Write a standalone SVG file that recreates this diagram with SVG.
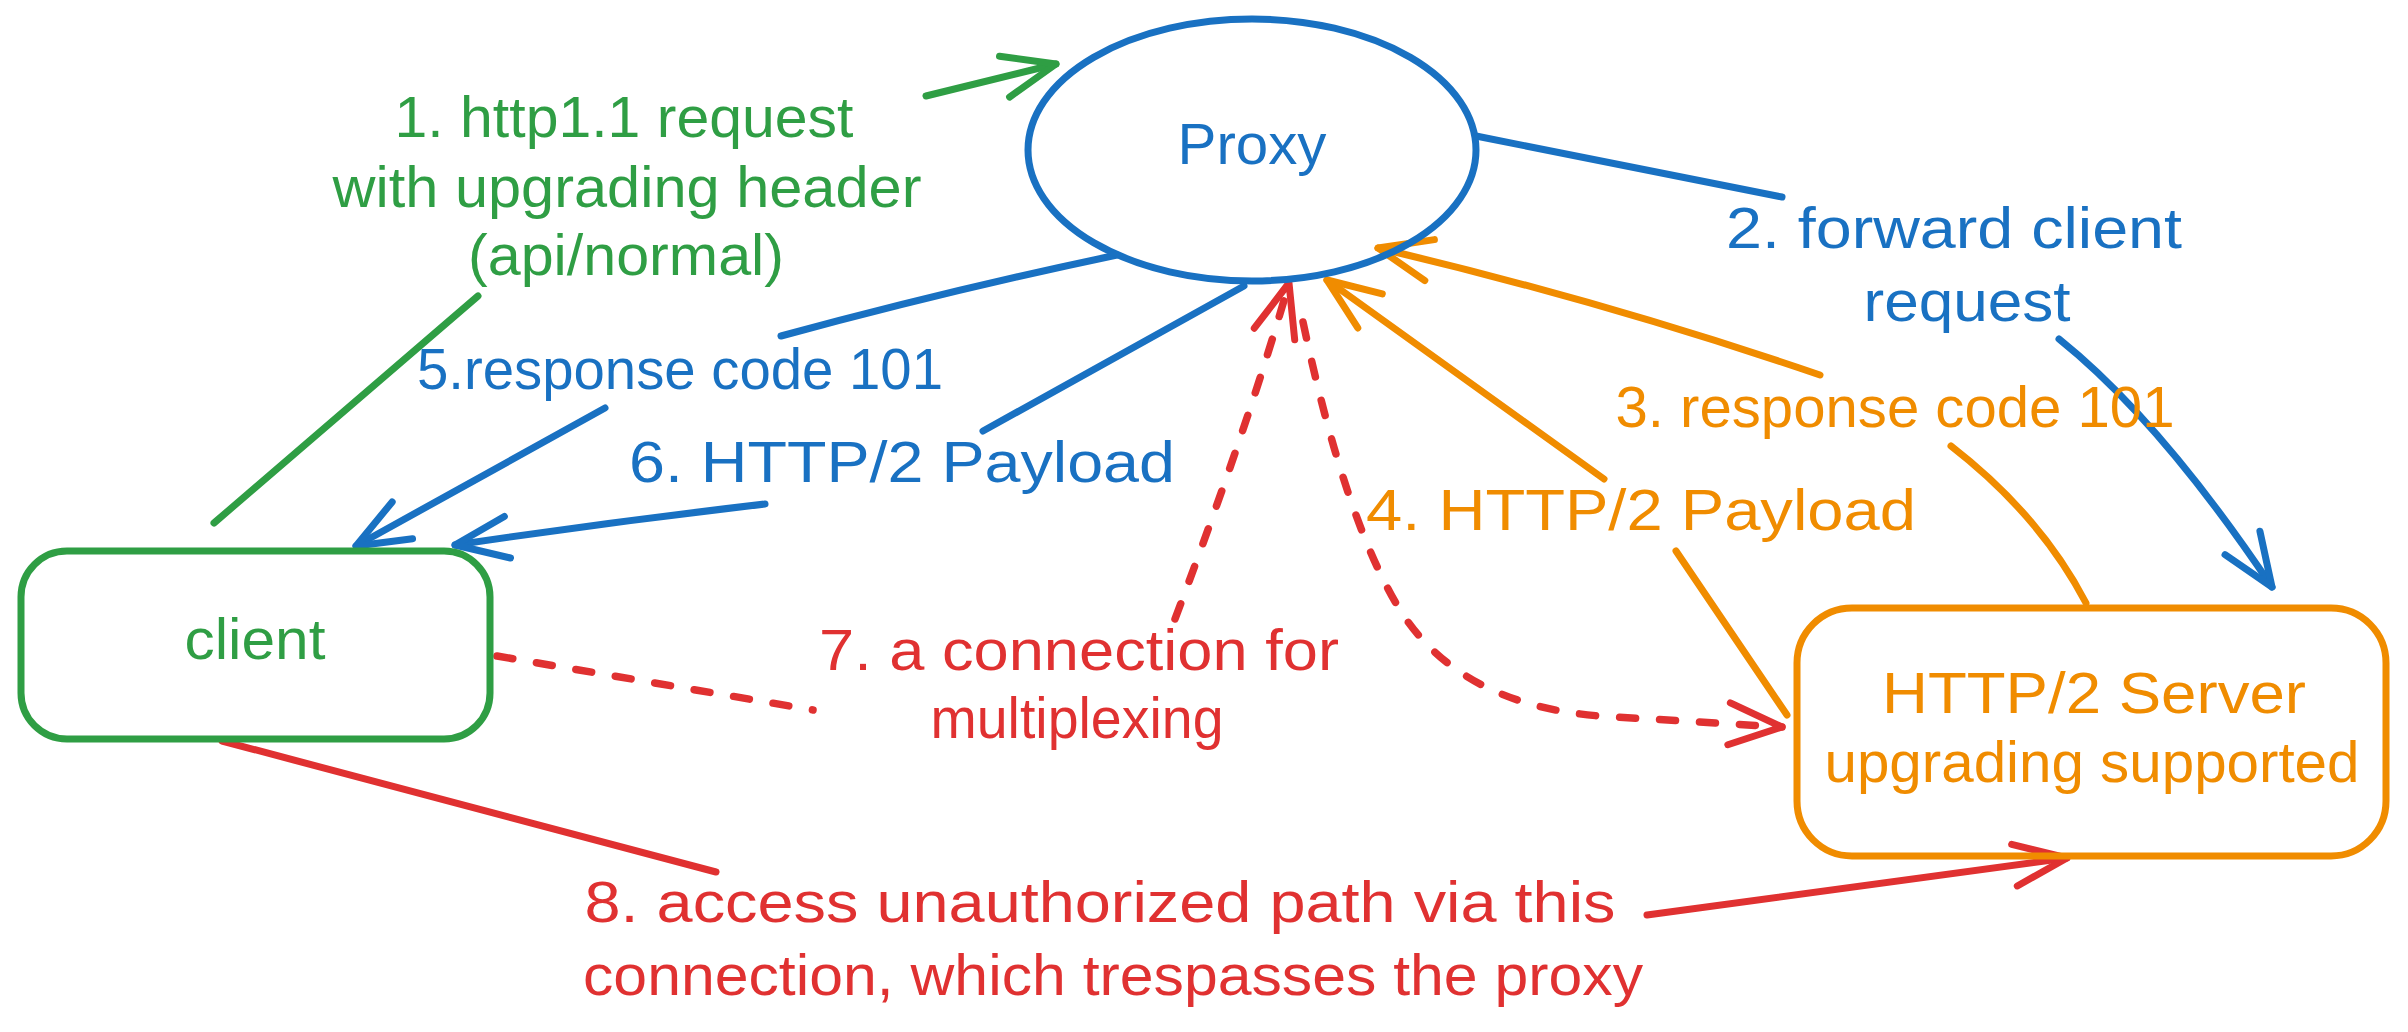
<svg xmlns="http://www.w3.org/2000/svg" width="2408" height="1032" viewBox="0 0 2408 1032">
<style>
  text { font-family: "Liberation Sans", "DejaVu Sans", sans-serif; font-size: 57px; text-anchor: middle; }
  .g { fill: #2f9e44; } .b { fill: #1971c2; } .o { fill: #f08c00; } .r { fill: #e03131; }
  .shape { fill: none; stroke-width: 7; }
  .conn { fill: none; stroke-width: 7; stroke-linecap: round; stroke-linejoin: round; }
  .dash { stroke-dasharray: 16 24; stroke-width: 7.5; }
  .head { fill: none; stroke-width: 7; stroke-linecap: round; stroke-linejoin: round; stroke-dasharray: none; }
</style>
<defs>
  <marker id="ah-g" markerUnits="userSpaceOnUse" orient="auto" overflow="visible" markerWidth="1" markerHeight="1" refX="0" refY="0"><path class="head" stroke="#2f9e44" d="M-53,-21 L0,0 L-53,21"/></marker>
  <marker id="ah-b" markerUnits="userSpaceOnUse" orient="auto" overflow="visible" markerWidth="1" markerHeight="1" refX="0" refY="0"><path class="head" stroke="#1971c2" d="M-53,-21 L0,0 L-53,21"/></marker>
  <marker id="ah-o" markerUnits="userSpaceOnUse" orient="auto" overflow="visible" markerWidth="1" markerHeight="1" refX="0" refY="0"><path class="head" stroke="#f08c00" d="M-53,-21 L0,0 L-53,21"/></marker>
  <marker id="ah-r" markerUnits="userSpaceOnUse" orient="auto" overflow="visible" markerWidth="1" markerHeight="1" refX="0" refY="0"><path class="head" stroke="#e03131" d="M-53,-21 L0,0 L-53,21"/></marker>
</defs>
<rect width="2408" height="1032" fill="#ffffff"/>

<g id="connectors">
  <g id="c1"><path class="conn" stroke="#2f9e44" marker-end="url(#ah-g)" d="M214 523 L478 296 M926 96 L1056 64"/>
    <text class="g" x="624" y="137" textLength="459" lengthAdjust="spacingAndGlyphs">1. http1.1 request</text>
    <text class="g" x="627" y="207" textLength="589" lengthAdjust="spacingAndGlyphs">with upgrading header</text>
    <text class="g" x="626" y="275" textLength="316" lengthAdjust="spacingAndGlyphs">(api/normal)</text></g>
  <g id="c2"><path class="conn" stroke="#1971c2" marker-end="url(#ah-b)" d="M1476 136 L1782 197 M2059 339 Q2160 420 2272 587"/>
    <text class="b" x="1954" y="248" textLength="456" lengthAdjust="spacingAndGlyphs">2. forward client</text>
    <text class="b" x="1967" y="321" textLength="207" lengthAdjust="spacingAndGlyphs">request</text></g>
  <g id="c3"><path class="conn" stroke="#f08c00" marker-end="url(#ah-o)" d="M2086 603 Q2040 515 1951 446 M1820 375 Q1600 300 1378 248"/>
    <text class="o" x="1895" y="427" textLength="559" lengthAdjust="spacingAndGlyphs">3. response code 101</text></g>
  <g id="c4"><path class="conn" stroke="#f08c00" marker-end="url(#ah-o)" d="M1787 715 L1676 551 M1604 479 L1327 280"/>
    <text class="o" x="1641" y="530" textLength="550" lengthAdjust="spacingAndGlyphs">4. HTTP/2 Payload</text></g>
  <g id="c5"><path class="conn" stroke="#1971c2" marker-end="url(#ah-b)" d="M1117 255 Q950 290 781 336 M605 408 L356 546"/>
    <text class="b" x="680" y="389" textLength="526" lengthAdjust="spacingAndGlyphs">5.response code 101</text></g>
  <g id="c6"><path class="conn" stroke="#1971c2" marker-end="url(#ah-b)" d="M1244 286 L983 431 M765 504 Q610 522 455 545"/>
    <text class="b" x="902" y="482" textLength="546" lengthAdjust="spacingAndGlyphs">6. HTTP/2 Payload</text></g>
  <g id="c7"><path class="conn dash" stroke="#e03131" marker-end="url(#ah-r)" d="M497 656 L813 710 M1175 619 Q1250 420 1289 283"/>
    <path class="conn dash" stroke="#e03131" marker-end="url(#ah-r)" d="M1303 322 Q1345 520 1400 610 Q1460 705 1600 716 L1782 727"/>
    <text class="r" x="1079" y="670" textLength="520" lengthAdjust="spacingAndGlyphs">7. a connection for</text>
    <text class="r" x="1077" y="738" textLength="293" lengthAdjust="spacingAndGlyphs">multiplexing</text></g>
  <g id="c8"><path class="conn" stroke="#e03131" marker-end="url(#ah-r)" d="M222 741 L716 872 M1647 915 L2067 858"/>
    <text class="r" x="1100" y="922" textLength="1031" lengthAdjust="spacingAndGlyphs">8. access unauthorized path via this</text>
    <text class="r" x="1113" y="995" textLength="1060" lengthAdjust="spacingAndGlyphs">connection, which trespasses the proxy</text></g>
</g>

<g id="proxy">
  <ellipse class="shape" cx="1252" cy="150" rx="224" ry="131" stroke="#1971c2"/>
  <text class="b" x="1252" y="164" textLength="149" lengthAdjust="spacingAndGlyphs">Proxy</text>
</g>
<g id="client">
  <rect class="shape" x="21" y="551" width="469" height="188" rx="46" stroke="#2f9e44"/>
  <text class="g" x="255" y="659" textLength="141" lengthAdjust="spacingAndGlyphs">client</text>
</g>
<g id="server">
  <rect class="shape" x="1797" y="608" width="589" height="248" rx="55" stroke="#f08c00"/>
  <text class="o" x="2094" y="713" textLength="424" lengthAdjust="spacingAndGlyphs">HTTP/2 Server</text>
  <text class="o" x="2092" y="782" textLength="535" lengthAdjust="spacingAndGlyphs">upgrading supported</text>
</g>
</svg>
